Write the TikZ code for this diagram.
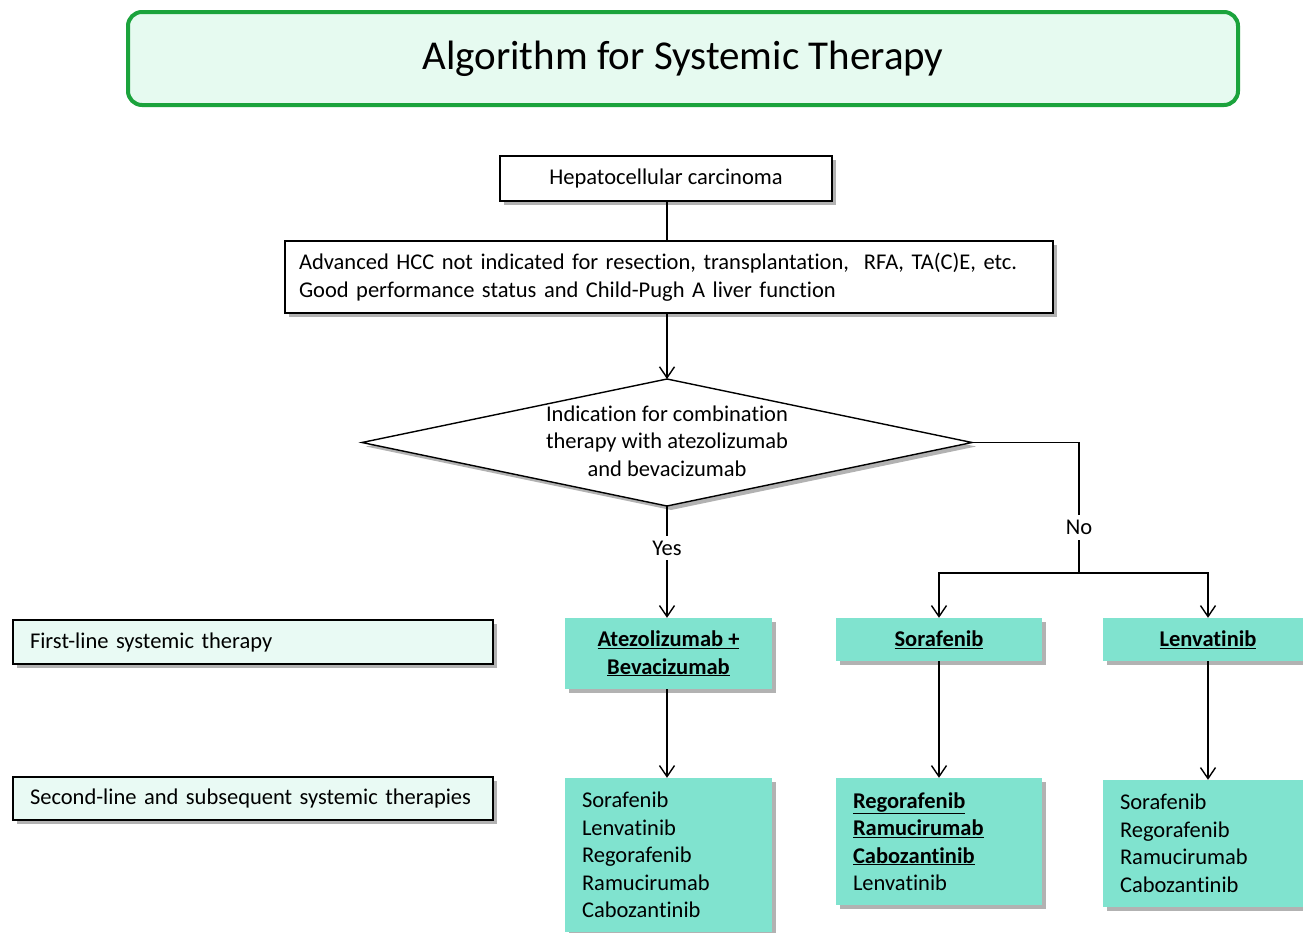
\documentclass[tikz,border=0pt]{standalone}
\usepackage{fontspec}
\setmainfont{Carlito}[RawFeature={-liga}]
\usetikzlibrary{arrows.meta,shadows}
\definecolor{teal1}{RGB}{128,227,207}
\definecolor{mint}{RGB}{230,250,240}
\definecolor{mint2}{RGB}{233,250,244}
\definecolor{grn}{RGB}{27,163,60}
\tikzset{
  txt/.style={font=\fontsize{22.5}{27.5}\selectfont, text=black},
  shd/.style={drop shadow={shadow xshift=4pt, shadow yshift=-4pt, opacity=0.3, fill=black}},
  whitebox/.style={txt, draw=black, line width=1.4pt, fill=white, shd, inner sep=0pt},
  labelbox/.style={txt, draw=black, line width=1.4pt, fill=mint2, shd, inner sep=0pt, align=left},
  tealbox/.style={txt, fill=teal1, shd, inner sep=0pt},
  arr/.style={line width=1.4pt, -{Straight Barb[length=11pt,width=15pt,line width=1.4pt]}},
  ln/.style={line width=1.4pt},
  lbl/.style={txt, fill=white, inner sep=5pt},
}
\begin{document}
\begin{tikzpicture}[x=1pt,y=-1pt]
\clip (0,0) rectangle (1303,932);
\fill[white] (0,0) rectangle (1303,932);

% title
\node[draw=grn, line width=4pt, fill=mint, rounded corners=14pt, minimum width=1110pt, minimum height=93pt,
      font=\fontsize{41}{48}\selectfont, inner sep=0pt] (title) at (683,58.5) {Algorithm for Systemic Therapy};

% main flow
\node[whitebox, minimum width=332pt, minimum height=45pt] (hcc) at (666,178.5) {Hepatocellular carcinoma};
\node[whitebox, minimum width=768pt, minimum height=72pt, text width=740pt, align=left] (adv) at (669,277)
  {Advanced HCC not indicated for resection, transplantation,\ \ RFA, TA(C)E, etc.\\Good performance status and Child-Pugh A liver function};

% decision diamond
\coordinate (dN) at (667,379);
\coordinate (dS) at (667,506);
\coordinate (dW) at (362,442.5);
\coordinate (dE) at (972,442.5);
\filldraw[line width=1.4pt, fill=white, shd] (dN) -- (dE) -- (dS) -- (dW) -- cycle;
\node[txt, align=center, inner sep=0pt] (dia) at (667,441) {Indication for combination\\therapy with atezolizumab\\and bevacizumab};

% left labels
\node[labelbox, minimum width=480pt, minimum height=44pt, text width=446pt] (first) at (253,642) {First-line systemic therapy};
\node[labelbox, minimum width=480pt, minimum height=43pt, text width=446pt] (second) at (253,798.5) {Second-line and subsequent systemic therapies};

% first-line boxes
\node[tealbox, minimum width=207pt, minimum height=71pt, align=center] (atezo) at (668.5,653.5)
  {\underline{\textbf{Atezolizumab +}}\\\underline{\textbf{Bevacizumab}}};
\node[tealbox, minimum width=206pt, minimum height=43pt] (sora) at (939,639.5) {\underline{\textbf{Sorafenib}}};
\node[tealbox, minimum width=210pt, minimum height=43pt] (lenv) at (1208,639.5) {\underline{\textbf{Lenvatinib}}};

% second-line boxes
\node[tealbox, minimum width=207pt, minimum height=154pt, text width=173pt, align=left] (a2) at (668.5,855)
  {Sorafenib\\Lenvatinib\\Regorafenib\\Ramucirumab\\Cabozantinib};
\node[tealbox, minimum width=206pt, minimum height=127pt, text width=172pt, align=left] (s2) at (939,841.5)
  {\underline{\textbf{Regorafenib}}\\\underline{\textbf{Ramucirumab}}\\\underline{\textbf{Cabozantinib}}\\Lenvatinib};
\node[tealbox, minimum width=210pt, minimum height=127pt, text width=176pt, align=left] (l2) at (1208,843.5)
  {Sorafenib\\Regorafenib\\Ramucirumab\\Cabozantinib};

% connectors
\coordinate (nobr) at (1079,573);
\draw[ln] (hcc.south -| dN) -- (adv.north -| dN);
\draw[arr] (adv.south -| dN) -- (dN);
\draw[arr] (dS) -- node[lbl, pos=0.375] {Yes} (atezo.north -| dS);
\draw[ln] (dE) -| node[lbl, pos=0.825] {No} (nobr);
\draw[arr] (nobr) -| (sora.north);
\draw[arr] (nobr) -| (lenv.north);
\draw[arr] (atezo.south -| dS) -- (a2.north -| dS);
\draw[arr] (sora.south) -- (s2.north);
\draw[arr] (lenv.south) -- (l2.north);
\end{tikzpicture}
\end{document}
